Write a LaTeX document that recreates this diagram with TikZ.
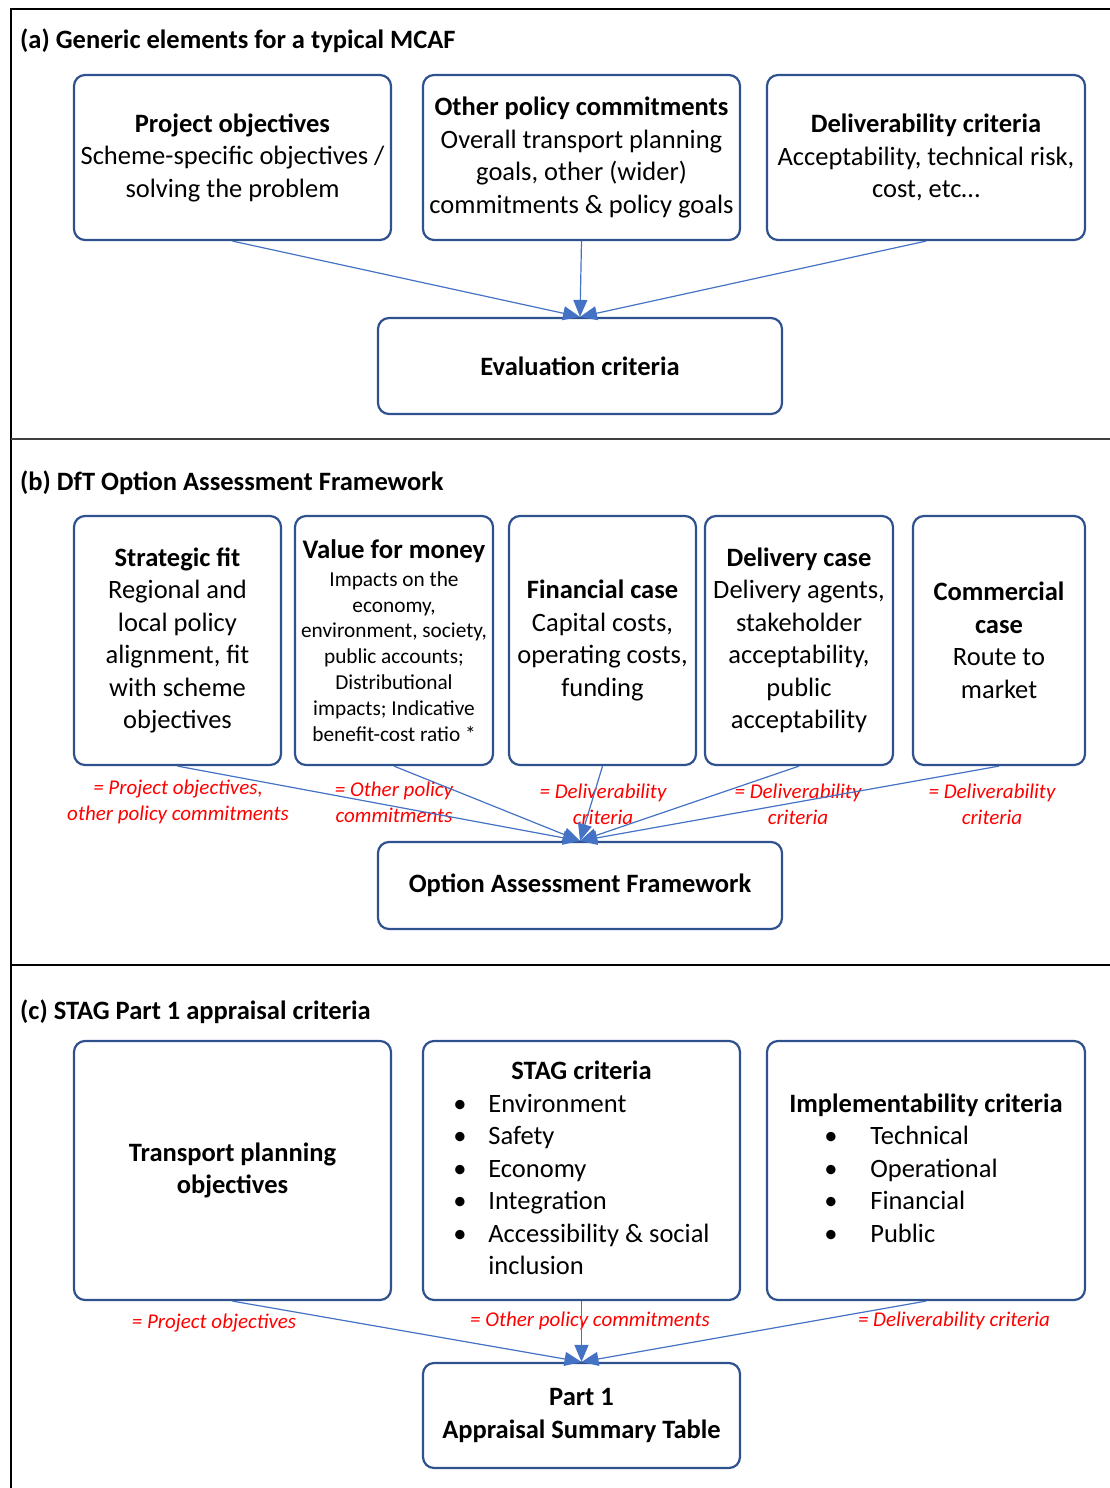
\documentclass[tikz,border=0pt]{standalone}
\usepackage{fontspec}
\setmainfont{Carlito}
\usetikzlibrary{arrows.meta}
\definecolor{boxblue}{HTML}{2F528F}
\definecolor{arrblue}{HTML}{4472C4}
\definecolor{lblred}{HTML}{FF0000}
\begin{document}
\begin{tikzpicture}[x=1pt,y=-1pt,
  bx/.style={draw=boxblue, line width=2.2pt, rounded corners=11pt, inner sep=0pt,
    align=center, font=\fontsize{26.5}{32.5}\selectfont},
  arr/.style={draw=arrblue, line width=1.2pt, -{Triangle[length=17pt,width=14pt]}},
  lbl/.style={text=lblred, font=\fontsize{21}{26}\selectfont\itshape, align=center, inner sep=0pt},
  ttl/.style={font=\fontsize{26.5}{30}\selectfont\bfseries, anchor=west, inner sep=0pt},
  frm/.style={line width=2pt}]
\useasboundingbox (0,0) rectangle (1110,1488);
% frame
\draw[frm] (11,1488) -- (11,9) -- (1110,9);
\draw[line width=1.6pt, black!75] (11,439) -- (1110,439);
\draw[line width=1.6pt] (11,965) -- (1110,965);

% (a)
\node[ttl] (ta) at (20,41) {(a) Generic elements for a typical MCAF};
\node[bx, minimum width=317pt, minimum height=165pt] (a1) at (232.5,157.5)
  {\textbf{Project objectives}\\Scheme-specific objectives /\\solving the problem};
\node[bx, minimum width=317pt, minimum height=165pt] (a2) at (581.5,157.5)
  {\textbf{Other policy commitments}\\Overall transport planning\\goals, other (wider)\\commitments \& policy goals};
\node[bx, minimum width=318pt, minimum height=165pt] (a3) at (926,157.5)
  {\textbf{Deliverability criteria}\\Acceptability, technical risk,\\cost, etc\ldots};
\node[bx, minimum width=404pt, minimum height=96pt] (ae) at (580,366)
  {\textbf{Evaluation criteria}};
\draw[arr] (a1.south) -- (ae.north);
\draw[arr] (a2.south) -- (ae.north);
\draw[arr] (a3.south) -- (ae.north);

% (b)
\node[ttl] (tb) at (20,483) {(b) DfT Option Assessment Framework};
\node[bx, minimum width=207pt, minimum height=249pt] (b1) at (177.5,640.5)
  {\textbf{Strategic fit}\\Regional and\\local policy\\alignment, fit\\with scheme\\objectives};
\node[bx, minimum width=198pt, minimum height=249pt, font=\fontsize{21.3}{25.8}\selectfont] (b2) at (394,640.5)
  {{\fontsize{26.8}{29}\selectfont\bfseries Value for money}\\[2pt]Impacts on the\\economy,\\environment, society,\\public accounts;\\Distributional\\impacts; Indicative\\benefit-cost ratio *};
\node[bx, minimum width=187pt, minimum height=249pt] (b3) at (602.5,640.5)
  {\textbf{Financial case}\\Capital costs,\\operating costs,\\funding};
\node[bx, minimum width=188pt, minimum height=249pt] (b4) at (799,640.5)
  {\textbf{Delivery case}\\Delivery agents,\\stakeholder\\acceptability,\\public\\acceptability};
\node[bx, minimum width=172pt, minimum height=249pt] (b5) at (999,640.5)
  {\textbf{Commercial}\\\textbf{case}\\Route to\\market};
\node[bx, minimum width=404pt, minimum height=87pt] (bo) at (580,885.5)
  {\textbf{Option Assessment Framework}};
\node[lbl] (l1) at (178,802) {= Project objectives,\\other policy commitments};
\node[lbl] (l2) at (394,802) {= Other policy\\commitments};
\node[lbl] (l3) at (603,804) {= Deliverability\\criteria};
\node[lbl] (l4) at (798,804) {= Deliverability\\criteria};
\node[lbl] (l5) at (992,804) {= Deliverability\\criteria};
\draw[arr] (b1.south) -- (bo.north);
\draw[arr] (b2.south) -- (bo.north);
\draw[arr] (b3.south) -- (bo.north);
\draw[arr] (b4.south) -- (bo.north);
\draw[arr] (b5.south) -- (bo.north);

% (c)
\node[ttl] (tc) at (20,1012) {(c) STAG Part 1 appraisal criteria};
\node[bx, minimum width=317pt, minimum height=259pt] (c1) at (232.5,1170.5)
  {\textbf{Transport planning}\\\textbf{objectives}};
\node[bx, minimum width=317pt, minimum height=259pt] (c2) at (581.5,1170.5)
  {\begin{tabular}{@{}l@{}}
   \multicolumn{1}{c}{\textbf{STAG criteria}}\\
   \makebox[35pt][l]{\textbullet}Environment\\
   \makebox[35pt][l]{\textbullet}Safety\\
   \makebox[35pt][l]{\textbullet}Economy\\
   \makebox[35pt][l]{\textbullet}Integration\\
   \makebox[35pt][l]{\textbullet}Accessibility \& social\\
   \hspace*{35pt}inclusion
   \end{tabular}};
\node[bx, minimum width=318pt, minimum height=259pt] (c3) at (926,1170.5)
  {\begin{tabular}{@{}l@{}}
   \textbf{Implementability criteria}\\
   \hspace*{35pt}\makebox[46pt][l]{\textbullet}Technical\\
   \hspace*{35pt}\makebox[46pt][l]{\textbullet}Operational\\
   \hspace*{35pt}\makebox[46pt][l]{\textbullet}Financial\\
   \hspace*{35pt}\makebox[46pt][l]{\textbullet}Public
   \end{tabular}};
\node[bx, minimum width=317pt, minimum height=105pt] (cp) at (581.5,1415.5)
  {\textbf{Part 1}\\\textbf{Appraisal Summary Table}};
\node[lbl] (m1) at (214,1323) {= Project objectives};
\node[lbl] (m2) at (590,1321) {= Other policy commitments};
\node[lbl] (m3) at (954,1321) {= Deliverability criteria};
\draw[arr] (c1.south) -- (cp.north);
\draw[arr] (c2.south) -- (cp.north);
\draw[arr] (c3.south) -- (cp.north);
\end{tikzpicture}
\end{document}
